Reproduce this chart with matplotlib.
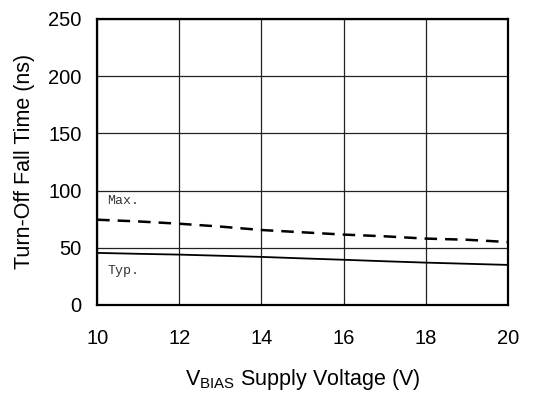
import matplotlib
matplotlib.use("Agg")
import matplotlib.pyplot as plt

# Turn-off fall time vs VBIAS supply voltage
vbias = [10, 11, 12, 13, 14, 15, 16, 17, 18, 19, 20]
fall_max = [74.5, 73, 71, 68.5, 65.5, 63.5, 61.5, 60, 58, 57, 55]
fall_typ = [45.5, 44.7, 44, 43, 42, 40.7, 39.5, 38.2, 37, 36, 35]

x_ticks = [10, 12, 14, 16, 18, 20]
y_ticks = [0, 50, 100, 150, 200, 250]

plt.rcParams['font.family'] = ['Liberation Sans', 'DejaVu Sans']

fig = plt.figure(figsize=(5.52, 3.94), dpi=100)
ax = fig.add_axes([0.176, 0.226, 0.744, 0.726])

ax.plot(vbias, fall_max, color='black', linewidth=1.8, dashes=(5, 3.2))
ax.plot(vbias, fall_typ, color='black', linewidth=1.3)

ax.text(10.24, 91, 'Max.', family='Liberation Mono', fontsize=9.5, color='#333333',
        va='center')
ax.text(10.24, 30, 'Typ.', family='Liberation Mono', fontsize=9.5, color='#333333',
        va='center')

ax.set_xlim(10, 20)
ax.set_ylim(0, 250)
ax.set_xticks(x_ticks)
ax.set_yticks(y_ticks)
ax.tick_params(length=0, labelsize=14.5)
ax.tick_params(axis='x', pad=17)
ax.tick_params(axis='y', pad=11)
ax.grid(True, color='#222222', linewidth=0.9)
for s in ax.spines.values():
    s.set_linewidth(1.6)

ax.set_xlabel(r'V$_{\mathregular{BIAS}}$ Supply Voltage (V)', fontsize=15.5, labelpad=14)
ax.set_ylabel('Turn-Off Fall Time (ns)', fontsize=15.5, labelpad=10)

fig.savefig('out.png', dpi=100)
